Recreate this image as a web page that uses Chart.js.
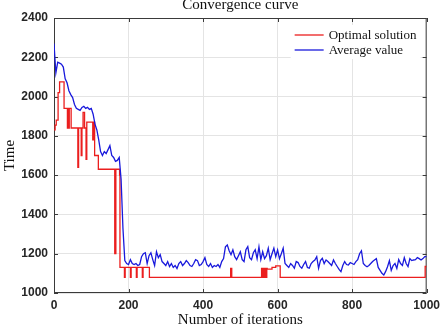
<!DOCTYPE html>
<html>
<head>
<meta charset="utf-8">
<script src="https://cdn.jsdelivr.net/npm/chart.js@4.4.1/dist/chart.umd.min.js"></script>
<style>
  html, body { margin: 0; padding: 0; background: #fff; }
  canvas { display: block; }
</style>
</head>
<body>
<canvas id="convChart" width="445" height="324"></canvas>
<script>
// axis ticks
const xTicks = [0, 200, 400, 600, 800, 1000];
const yTicks = [1000, 1200, 1400, 1600, 1800, 2000, 2200, 2400];

// Optimal solution: iteration where the value changes, and the new value
const bestIter = [0, 3, 6, 11, 15, 27, 36, 37, 40, 41, 46, 64, 66, 73, 75, 78, 82, 86, 88, 104,
  107, 109, 119, 163, 166, 176, 177, 189, 191, 205, 207, 221, 223, 237, 239, 256, 474, 477,
  557, 558, 559, 560, 561, 562, 563, 564, 565, 566, 567, 568, 569, 570, 571, 572,
  585, 595, 607, 996, 1000];
const bestValue = [1830, 1855, 1880, 2020, 2075, 1940, 1840, 1940, 1840, 1940, 1840, 1640, 1840, 1700, 1840, 1920, 1840, 1680, 1870, 1780,
  1870, 1700, 1630, 1200, 1630, 1600, 1130, 1080, 1130, 1080, 1130, 1080, 1130, 1080, 1130, 1080, 1125, 1080,
  1125, 1080, 1125, 1080, 1125, 1080, 1125, 1080, 1125, 1080, 1125, 1080, 1125, 1080, 1125, 1122,
  1130, 1138, 1080, 1135, 1135];

// Average value, read every 5 iterations
const avgStep = 5;
const avgValue = [
  2270, 2120, 2175, 2170, 2165, 2150, 2090, 2070, 2030, 2010,
  1995, 1960, 1940, 1935, 1930, 1945, 1950, 1940, 1945, 1935,
  1940, 1910, 1860, 1830, 1780, 1720, 1700, 1720, 1710, 1730,
  1750, 1700, 1690, 1670, 1675, 1690, 1580, 1330,
  1165, 1150, 1145, 1170, 1150, 1145, 1150, 1140, 1145, 1185,
  1200, 1205, 1150, 1190, 1205, 1170, 1140, 1210, 1180, 1195,
  1160, 1150, 1140, 1160, 1135, 1150, 1130, 1140, 1125, 1150,
  1160, 1140, 1150, 1165, 1155, 1140, 1135, 1150, 1170, 1165,
  1140, 1145, 1160, 1180, 1145, 1135, 1150, 1130, 1140, 1135,
  1145, 1130, 1160, 1175, 1235, 1245, 1215, 1195, 1220, 1185,
  1170, 1190, 1210, 1170, 1160, 1220, 1236, 1180, 1170, 1205,
  1220, 1175, 1235, 1170, 1210, 1175, 1190, 1228, 1170, 1200,
  1228, 1185, 1219, 1175, 1200, 1228, 1150, 1140, 1130, 1150,
  1140, 1126, 1160, 1155, 1135, 1126, 1145, 1160, 1130, 1126,
  1150, 1160, 1168, 1185, 1126, 1165, 1177, 1150, 1168, 1160,
  1150, 1140, 1168, 1150, 1135, 1120, 1109, 1140, 1160, 1145,
  1143, 1155, 1150, 1145, 1160, 1170, 1200, 1215, 1150, 1140,
  1134, 1140, 1150, 1160, 1168, 1175, 1130, 1115, 1100, 1092,
  1110, 1134, 1165, 1115, 1140, 1150, 1125, 1170, 1150, 1140,
  1180, 1150, 1135, 1175, 1165, 1168, 1170, 1180, 1175, 1168,
  1175, 1185, 1185
];

const serif = '"Liberation Serif", "Times New Roman", serif';
const sans = '"Liberation Sans", Arial, sans-serif';

// box around the plot with small inward ticks, like matlab
const framePlugin = {
  id: 'frame',
  beforeDatasetsDraw(chart) {
    const { ctx, chartArea: a, scales } = chart;
    ctx.save();
    ctx.strokeStyle = '#3a3a3a';
    ctx.lineWidth = 1;
    ctx.strokeRect(a.left + 0.5, a.top + 0.5, a.right - a.left - 1, a.bottom - a.top - 1);
    ctx.beginPath();
    xTicks.forEach(v => {
      const x = Math.round(scales.x.getPixelForValue(v)) + 0.5;
      ctx.moveTo(x, a.bottom); ctx.lineTo(x, a.bottom - 4);
      ctx.moveTo(x, a.top); ctx.lineTo(x, a.top + 4);
    });
    yTicks.forEach(v => {
      const y = Math.round(scales.y.getPixelForValue(v)) + 0.5;
      ctx.moveTo(a.left, y); ctx.lineTo(a.left + 4, y);
      ctx.moveTo(a.right, y); ctx.lineTo(a.right - 4, y);
    });
    ctx.stroke();
    ctx.restore();
  }
};

// legend in the upper right corner of the plot
const cornerLegend = {
  id: 'cornerLegend',
  afterDraw(chart) {
    const { ctx, chartArea: a } = chart;
    const x0 = a.right - 132;
    ctx.save();
    ctx.fillStyle = '#fff';
    ctx.fillRect(x0 - 4, a.top + 7, 130, 34);
    ctx.font = '13px ' + serif;
    ctx.textBaseline = 'middle';
    chart.data.datasets.forEach((ds, i) => {
      const y = a.top + 17 + i * 15;
      ctx.strokeStyle = ds.borderColor;
      ctx.lineWidth = 1.3;
      ctx.beginPath();
      ctx.moveTo(x0, y);
      ctx.lineTo(x0 + 29, y);
      ctx.stroke();
      ctx.fillStyle = '#111';
      ctx.fillText(ds.label, x0 + 34, y + 1);
    });
    ctx.restore();
  }
};

const ctx = document.getElementById('convChart').getContext('2d');
new Chart(ctx, {
  type: 'line',
  data: {
    datasets: [{
      label: 'Optimal solution',
      data: bestIter.map((it, i) => ({ x: it, y: bestValue[i] })),
      borderColor: 'rgb(235, 30, 30)',
      borderWidth: 1.3,
      stepped: true,
      pointRadius: 0,
      order: 1
    }, {
      label: 'Average value',
      data: avgValue.map((v, i) => ({ x: i * avgStep, y: v })),
      borderColor: 'rgb(25, 25, 220)',
      borderWidth: 1.3,
      tension: 0,
      pointRadius: 0,
      order: 0
    }]
  },
  options: {
    responsive: false,
    devicePixelRatio: 1,
    animation: false,
    layout: { padding: { left: 0, right: 16, top: 0, bottom: 0 } },
    plugins: {
      legend: { display: false },
      tooltip: { enabled: false },
      title: {
        display: true,
        text: 'Convergence curve',
        fullSize: false,
        color: '#111',
        font: { family: serif, size: 15, weight: 'normal', lineHeight: '10px' },
        padding: { top: 0, bottom: 8 }
      }
    },
    scales: {
      x: {
        type: 'linear',
        min: 0,
        max: 1000,
        afterBuildTicks: s => { s.ticks = xTicks.map(v => ({ value: v })); },
        afterFit: s => { s.height = 31; },
        grid: { color: '#e4e4e4', drawTicks: false },
        border: { display: false },
        ticks: {
          padding: 5, color: '#262626',
          font: { family: sans, size: 12, weight: 'bold' },
          callback: v => String(v)
        },
        title: {
          display: true,
          text: 'Number of iterations',
          color: '#111',
          font: { family: serif, size: 15, lineHeight: '8px' },
          padding: 0
        }
      },
      y: {
        min: 1000,
        max: 2400,
        afterBuildTicks: s => { s.ticks = yTicks.map(v => ({ value: v })); },
        afterFit: s => { s.width = 54; },
        grid: { color: '#e4e4e4', drawTicks: false },
        border: { display: false },
        ticks: {
          padding: 6, color: '#262626',
          font: { family: sans, size: 12, weight: 'bold' },
          callback: v => String(v)
        },
        title: {
          display: true,
          text: 'Time',
          color: '#111',
          font: { family: serif, size: 15, lineHeight: '20px' },
          padding: 0
        }
      }
    }
  },
  plugins: [framePlugin, cornerLegend]
});
</script>
</body>
</html>
